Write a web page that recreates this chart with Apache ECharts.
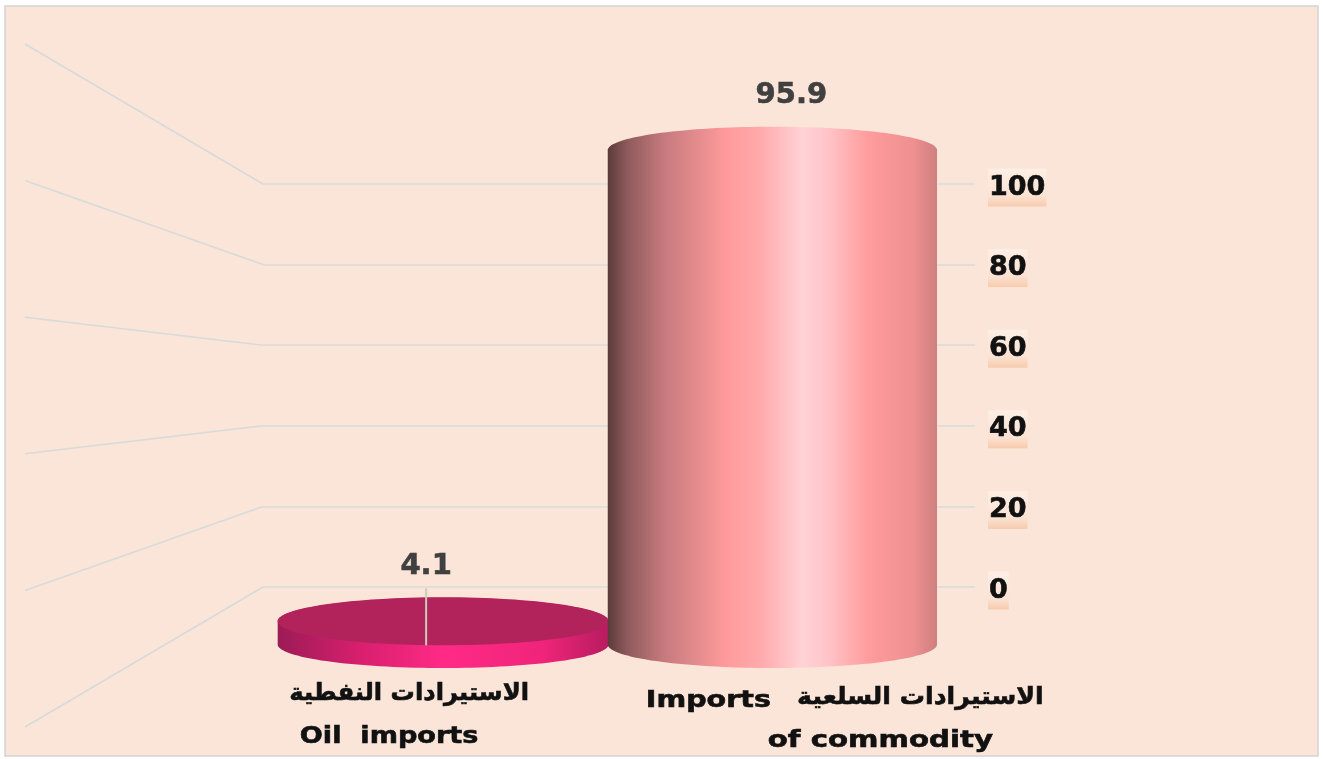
<!DOCTYPE html>
<html><head><meta charset="utf-8">
<script src="https://cdn.jsdelivr.net/npm/echarts@6/dist/echarts.min.js"></script>
<style>html,body{margin:0;padding:0;background:#fff}#c{width:1323px;height:759px}</style>
</head><body><div id="c"></div>
<script>
const categories = ['Oil imports', 'Imports of commodity'];
const shares = [4.1, 95.9];
const shareLabels = ['4.1', '95.9'];
const arabicNames = ['الاستيرادات النفطية', 'الاستيرادات السلعية'];
const tickValues = [0, 20, 40, 60, 80, 100];

const FONT = '"DejaVu Sans", sans-serif';
const RY = 23.5;
const grad = (stops) => new echarts.graphic.LinearGradient(0, 0, 1, 0,
  stops.map(s => ({offset: s[0], color: s[1]})));
const tall = [[0,'#5c3a3a'],[0.06,'#8f5a5c'],[0.17,'#c67a7e'],[0.36,'#ff9a9b'],[0.46,'#ffa9ab'],[0.59,'#ffd2d6'],[0.67,'#ffc4c8'],[0.79,'#ff9c9d'],[0.93,'#ee8f90'],[1,'#cf7f80']];
const flatSide = [[0,'#9c1b57'],[0.25,'#d81f6e'],[0.5,'#ff2a86'],[0.8,'#f0247a'],[1,'#b81c60']];

function arc(cx, cy, rx, ry, a0, a1) {
  const pts = [];
  for (let i = 0; i <= 72; i++) {
    const a = a0 + (a1 - a0) * i / 72;
    pts.push([cx + rx * Math.cos(a), cy + ry * Math.sin(a)]);
  }
  return pts;
}
function body(cx, top, base, rx) {
  return arc(cx, top, rx, RY, Math.PI, 2 * Math.PI).concat(arc(cx, base, rx, RY, 0, Math.PI));
}

const renderDiagonal = (params, api) => {
  const a = api.coord([0, api.value(1)]);
  const b = api.coord([1, api.value(0)]);
  return {type: 'line', shape: {x1: a[0], y1: a[1], x2: b[0], y2: b[1]},
    style: {stroke: '#d8dada', lineWidth: 1.6}};
};

const renderCylinder = (params, api) => {
  const i = params.dataIndex;
  const c = api.coord([i, api.value(1)]);
  const b = api.coord([i, 0]);
  const top = c[1] + (i === 0 ? -2 : 1.5);
  const rx = api.size([1, 0])[0] / 2 + (i === 0 ? 0.8 : 0);
  const children = [{type: 'polygon', shape: {points: body(c[0], top, b[1], rx)},
    style: {fill: grad(i === 0 ? flatSide : tall)}}];
  if (i === 0) {
    children.push({type: 'ellipse', shape: {cx: c[0], cy: top, rx: rx, ry: RY + 0.5},
      style: {fill: '#b2235c'}});
    children.push({type: 'line', shape: {x1: c[0] - 17, y1: top - 33, x2: c[0] - 17, y2: top + 24},
      style: {stroke: '#c9cdb8', lineWidth: 2}});
  }
  return {type: 'group', children};
};

const text = (x, y, t, fontSize, fill, sx) => ({type: 'text', x, y, scaleX: sx || 1,
  style: {text: t, font: 'bold ' + fontSize + 'px ' + FONT, fill, align: 'center', verticalAlign: 'middle',
    stroke: fill, lineWidth: 0.6}});

const renderLabels = (params, api) => {
  const i = params.dataIndex;
  const c = api.coord([i, api.value(1)]);
  const b = api.coord([i, 0]);
  const kids = [];
  if (i === 0) {
    kids.push(text(c[0] - 17, c[1] - 57, shareLabels[i], 29, '#404040'));
    kids.push(text(c[0] - 34, b[1] + 49, arabicNames[i], 24, '#111', 1.01));
    kids.push(text(c[0] - 54, b[1] + 92.5, 'Oil  imports', 23, '#111', 1.18));
  } else {
    kids.push(text(c[0] + 19, c[1] - 53, shareLabels[i], 29, '#404040'));
    kids.push(text(c[0] + 148, b[1] + 53, arabicNames[i], 24, '#111', 1.05));
    kids.push(text(c[0] - 64, b[1] + 57, 'Imports', 23, '#111', 1.24));
    kids.push(text(c[0] + 108, b[1] + 97, 'of commodity', 23, '#111', 1.27));
  }
  return {type: 'group', children: kids};
};

const option = {
  animation: false,
  backgroundColor: '#ffffff',
  graphic: [{type: 'rect', z: -10, shape: {x: 5, y: 6, width: 1313, height: 750},
    style: {fill: '#fae5d8', stroke: '#d4d4d4', lineWidth: 1.5}}],
  grid: [
    {left: 263, right: 348, top: 184, bottom: 172},
    {left: 25, width: 238, top: 44, height: 683},
    {left: 278.5, width: 658.5, top: 127.5, height: 517},
    {left: 263, right: 348, top: 187.5, bottom: 168.5}
  ],
  xAxis: [
    {gridIndex: 0, type: 'value', show: false, min: 0, max: 1},
    {gridIndex: 1, type: 'value', show: false, min: 0, max: 1},
    {gridIndex: 2, type: 'category', show: false, data: categories},
    {gridIndex: 3, type: 'value', show: false, min: 0, max: 1}
  ],
  yAxis: [
    {gridIndex: 0, type: 'value', position: 'right', min: 0, max: 100, interval: 20,
      axisLine: {show: false}, axisTick: {show: false}, axisLabel: {show: false},
      splitLine: {show: true, lineStyle: {color: '#d8dada', width: 1.6}}},
    {gridIndex: 1, type: 'value', show: false, min: -34.74, max: 134.74},
    {gridIndex: 2, type: 'value', show: false, min: 0, max: 100},
    {gridIndex: 3, type: 'value', position: 'right', min: 0, max: 100, interval: 20,
      axisLine: {show: false}, axisTick: {show: false}, splitLine: {show: false},
      axisLabel: {margin: 13, color: '#111', fontFamily: FONT, fontWeight: 'bold', fontSize: 27,
        align: 'left', padding: [11, 1, 0, 1], textBorderColor: '#111', textBorderWidth: 0.6,
        backgroundColor: new echarts.graphic.LinearGradient(0, 0, 0, 1, [
          {offset: 0, color: '#fdeee5'}, {offset: 0.7, color: '#fbe3d4'}, {offset: 1, color: '#f7cbad'}])}}
  ],
  series: [
    {type: 'custom', xAxisIndex: 1, yAxisIndex: 1, renderItem: renderDiagonal, silent: true,
      encode: {x: 0, y: 1},
      data: tickValues.map(v => [v, -34.74 + v * 1.6948])},
    {type: 'custom', xAxisIndex: 2, yAxisIndex: 2, renderItem: renderCylinder, silent: true, z: 3,
      encode: {x: 0, y: 1},
      data: shares.map((v, i) => [i, v])},
    {type: 'custom', xAxisIndex: 2, yAxisIndex: 2, renderItem: renderLabels, silent: true, z: 4,
      encode: {x: 0, y: 1},
      data: shares.map((v, i) => [i, v])}
  ]
};
echarts.init(document.getElementById('c')).setOption(option);
</script></body></html>
